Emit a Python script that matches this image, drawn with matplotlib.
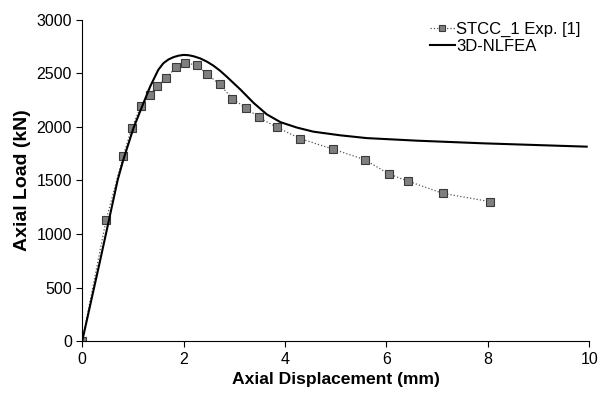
import numpy as np
import matplotlib
matplotlib.use('Agg')
import matplotlib.pyplot as plt

plt.rcParams['font.family'] = ['Liberation Sans', 'DejaVu Sans']

# experimental data (STCC_1)
exp_x = [0, 0.47, 0.81, 0.98, 1.16, 1.34, 1.47, 1.66, 1.85, 2.03, 2.26, 2.46, 2.71,
         2.96, 3.23, 3.48, 3.84, 4.30, 4.94, 5.57, 6.05, 6.42, 7.11, 8.05]
exp_y = [0, 1128, 1732, 1991, 2196, 2296, 2380, 2461, 2557, 2601, 2576, 2495, 2399,
         2265, 2178, 2090, 1997, 1891, 1794, 1695, 1561, 1495, 1380, 1302]

# 3D-NLFEA curve
fea_x = [0, 0.35, 0.70, 0.81, 1.01, 1.18, 1.34, 1.50, 1.60, 1.70, 1.80, 1.90, 2.0,
         2.10, 2.20, 2.33, 2.46, 2.59, 2.72, 2.85, 2.98, 3.12, 3.38, 3.64, 3.91,
         4.23, 4.56, 5.09, 5.61, 6.6, 7.92, 9.95]
fea_y = [0, 745, 1505, 1692, 1988, 2190, 2377, 2533, 2595, 2630, 2652, 2666, 2673,
         2670, 2660, 2640, 2610, 2572, 2525, 2470, 2412, 2350, 2225, 2118, 2045,
         1995, 1956, 1922, 1896, 1872, 1847, 1816]

fig = plt.figure(figsize=(6, 3.98), dpi=100)
ax = fig.add_axes([0.137, 0.143, 0.845, 0.807])

ax.plot(exp_x, exp_y, linestyle=':', color='#555555', linewidth=0.9,
        marker='s', markersize=6, markerfacecolor='#7f7f7f',
        markeredgecolor='#3a3a3a', markeredgewidth=0.8, label='STCC_1 Exp. [1]')
ax.plot(fea_x, fea_y, color='black', linewidth=1.5, label='3D-NLFEA')

ax.set_xlim(0, 10)
ax.set_ylim(0, 3000)
ax.set_xticks([0, 2, 4, 6, 8, 10])
ax.set_yticks(np.arange(0, 3001, 500))
ax.spines['top'].set_visible(False)
ax.spines['right'].set_visible(False)
ax.tick_params(labelsize=11.5, direction='out', length=4)
ax.set_xlabel('Axial Displacement (mm)', fontsize=12.6, fontweight='bold')
ax.set_ylabel('Axial Load (kN)', fontsize=14, fontweight='bold')

ax.legend(loc='upper right', frameon=False, fontsize=12, handlelength=1.5,
          handletextpad=0.1, borderaxespad=0.1, labelspacing=0.1,
          markerscale=0.65, bbox_to_anchor=(1.0, 1.02))

fig.savefig('out.png', dpi=100)
